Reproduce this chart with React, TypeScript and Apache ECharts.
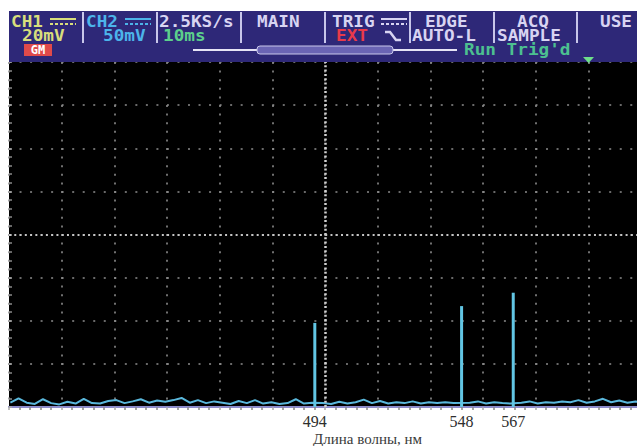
import React, { useEffect, useRef } from "react";
import * as echarts from "echarts";

// Spectrum peaks (wavelength, nm) and their heights (screen divisions)
const peakWavelengths = [494, 548, 567];
const peakHeights = [1.95, 2.34, 2.65];

// Baseline noise (wavelength nm, divisions)
const noiseWavelengths = [
  382, 385, 388, 391, 394, 397, 400, 403, 406, 409, 412, 415, 418, 421, 424, 427, 430, 433, 436, 439,
  442, 445, 448, 451, 454, 457, 460, 463, 466, 469, 472, 475, 478, 481, 484, 487, 490, 493, 497, 500,
  503, 506, 509, 512, 515, 518, 521, 524, 527, 530, 533, 536, 539, 542, 545, 551, 554, 557, 560, 563,
  566, 570, 573, 576, 579, 582, 585, 588, 591, 594, 597, 600, 603, 606, 609, 612, 614,
];
const noiseValues = [
  0.1, 0.2, 0.1, 0.07, 0.18, 0.09, 0.06, 0.12, 0.08, 0.19, 0.09, 0.08, 0.14, 0.16, 0.09, 0.13, 0.18, 0.1, 0.15, 0.12,
  0.16, 0.21, 0.1, 0.16, 0.09, 0.13, 0.1, 0.07, 0.14, 0.09, 0.16, 0.08, 0.11, 0.07, 0.09, 0.18, 0.08, 0.1, 0.09, 0.07,
  0.12, 0.08, 0.11, 0.17, 0.09, 0.14, 0.08, 0.11, 0.09, 0.13, 0.08, 0.11, 0.09, 0.11, 0.09, 0.1, 0.13, 0.08, 0.11, 0.09,
  0.08, 0.1, 0.13, 0.08, 0.11, 0.1, 0.13, 0.11, 0.16, 0.1, 0.13, 0.19, 0.11, 0.15, 0.1, 0.13, 0.11,
];

// Tick labels on the wavelength axis
const tickLabels = [494, 548, 567];
const axisTitle = "Длина волны, нм";

// Oscilloscope header texts
const headerRow1 = [
  { t: "CH1", x: 11, c: "#d8de7c" },
  { t: "CH2", x: 86, c: "#4cb4ea" },
  { t: "2.5KS/s", x: 159, c: "#d8d4f2" },
  { t: "MAIN", x: 257, c: "#d8d4f2" },
  { t: "TRIG", x: 332, c: "#d8d4f2" },
  { t: "EDGE", x: 425, c: "#d8d4f2" },
  { t: "ACQ", x: 517, c: "#d8d4f2" },
  { t: "USE", x: 600, c: "#d8d4f2" },
];
const headerRow2 = [
  { t: "20mV", x: 22, c: "#d8de7c" },
  { t: "50mV", x: 103, c: "#4cb4ea" },
  { t: "10ms", x: 163, c: "#5cd08c" },
  { t: "EXT", x: 336, c: "#e83a4a" },
  { t: "AUTO-L", x: 412, c: "#d8d4f2" },
  { t: "SAMPLE", x: 497, c: "#d8d4f2" },
];
const separators = [83, 157, 241, 325, 410, 494, 577];

const hdrText = (t: string, x: number, y: number, c: string) => ({
  type: "text",
  x,
  y,
  scaleX: 1.18,
  z: 20,
  style: {
    text: t,
    fill: c,
    fontFamily: "DejaVu Sans Mono",
    fontWeight: "bold",
    fontSize: 15,
    verticalAlign: "middle",
  },
});

export default function App() {
  const ref = useRef<HTMLDivElement>(null);
  useEffect(() => {
    if (!ref.current) return;
    const chart = echarts.init(ref.current, undefined, { renderer: "svg" });

    const noise = noiseWavelengths.map((w, i) => [w, noiseValues[i]]);
    const peaks = peakWavelengths.map((w, i) => [w, peakHeights[i]]);

    const graphic: any[] = [
      { type: "rect", z: 15, shape: { x: 9, y: 11, width: 632, height: 51 }, style: { fill: "#2e2878" } },
      ...separators.map((x) => ({
        type: "line",
        z: 16,
        shape: { x1: x, y1: 12, x2: x, y2: 43 },
        style: { stroke: "#c8c6ea", lineWidth: 2 },
      })),
      ...headerRow1.map((h) => hdrText(h.t, h.x, 22, h.c)),
      ...headerRow2.map((h) => hdrText(h.t, h.x, 36, h.c)),
      // coupling icons
      ...[
        { x: 50, c: "#d8de7c" },
        { x: 125, c: "#4cb4ea" },
        { x: 381, c: "#d8d4f2" },
      ].flatMap((ic) => [
        { type: "line", z: 16, shape: { x1: ic.x, y1: 19, x2: ic.x + 26, y2: 19 }, style: { stroke: ic.c, lineWidth: 2 } },
        {
          type: "line",
          z: 16,
          shape: { x1: ic.x, y1: 24, x2: ic.x + 26, y2: 24 },
          style: { stroke: ic.c, lineWidth: 2, lineDash: [3, 2] },
        },
      ]),
      // falling edge symbol
      {
        type: "polyline",
        z: 16,
        shape: { points: [[385, 32], [390, 32], [396, 40], [401, 40]] },
        style: { stroke: "#d8d4f2", lineWidth: 2.5, fill: "none" },
      },
      // GM badge
      { type: "rect", z: 16, shape: { x: 24, y: 44, width: 28, height: 12 }, style: { fill: "#e04a4a" } },
      {
        type: "text",
        z: 17,
        x: 38,
        y: 50,
        style: {
          text: "GM",
          fill: "#ffffff",
          fontFamily: "DejaVu Sans Mono",
          fontWeight: "bold",
          fontSize: 12,
          align: "center",
          verticalAlign: "middle",
        },
      },
      // timebase position bar
      { type: "line", z: 16, shape: { x1: 193, y1: 50, x2: 457, y2: 50 }, style: { stroke: "#e6e4f6", lineWidth: 2 } },
      {
        type: "rect",
        z: 17,
        shape: { x: 257, y: 46, width: 136, height: 8, r: 3 },
        style: { fill: "#6a64b4", stroke: "#c8c6ea", lineWidth: 1 },
      },
      hdrText("Run Trig'd", 464, 50, "#4cc090"),
      {
        type: "polygon",
        z: 17,
        shape: { points: [[583, 57], [594, 57], [588.5, 63]] },
        style: { fill: "#6ee08a" },
      },
      // axis title
      {
        type: "text",
        z: 20,
        x: 313,
        y: 439,
        style: {
          text: axisTitle,
          fill: "#3a3a3a",
          fontFamily: "Liberation Serif",
          fontSize: 15,
          verticalAlign: "middle",
        },
      },
    ];

    chart.setOption({
      animation: false,
      backgroundColor: "#ffffff",
      grid: {
        left: 9,
        right: 0,
        top: 62,
        bottom: 39,
        show: true,
        backgroundColor: "#000000",
        borderWidth: 0,
      },
      xAxis: [
        {
          type: "value",
          min: 381.5,
          max: 614,
          position: "bottom",
          axisLine: { show: true, onZero: false, lineStyle: { color: "#8c8ccc", width: 2 } },
          axisTick: { show: false },
          splitLine: { show: false },
          axisLabel: {
            customValues: tickLabels,
            margin: 6,
            color: "#2e2e2e",
            fontFamily: "Liberation Serif",
            fontSize: 16,
          },
        },
        {
          type: "value",
          min: 0,
          max: 12,
          interval: 1,
          position: "top",
          axisLine: { show: false },
          axisTick: { show: true, inside: true, length: 3, lineStyle: { color: "#aaaaaa", width: 1.5 } },
          minorTick: { show: true, splitNumber: 5, length: 3, lineStyle: { color: "#888888", width: 1.5 } },
          axisLabel: { show: false },
          splitLine: { show: true, lineStyle: { color: "#8c8c8c", width: 1.6, type: [2, 6.6] } },
        },
      ],
      yAxis: {
        type: "value",
        min: 0,
        max: 8,
        interval: 1,
        axisLine: { show: false },
        axisLabel: { show: false },
        axisTick: { show: true, inside: true, length: 3, lineStyle: { color: "#aaaaaa", width: 1.5 } },
        minorTick: { show: true, splitNumber: 5, length: 3, lineStyle: { color: "#888888", width: 1.5 } },
        splitLine: { show: true, lineStyle: { color: "#8c8c8c", width: 1.6, type: [2, 8.53] } },
      },
      series: [
        {
          type: "line",
          xAxisIndex: 1,
          data: [[6, -10]],
          showSymbol: false,
          silent: true,
          lineStyle: { opacity: 0 },
          markLine: {
            silent: true,
            symbol: "none",
            label: { show: false },
            data: [
              { xAxis: 6, lineStyle: { color: "#d0d0d0", width: 2.5, type: [2, 2.3] } },
              { yAxis: 4, lineStyle: { color: "#c4c4c4", width: 2.2, type: [2, 3.27] } },
            ],
          },
        },
        {
          type: "line",
          xAxisIndex: 0,
          data: noise,
          showSymbol: false,
          lineStyle: { color: "#5ab8dc", width: 2 },
          z: 4,
        },
        {
          type: "bar",
          xAxisIndex: 0,
          data: peaks,
          barWidth: 3,
          itemStyle: { color: "#62c6e4" },
          z: 5,
        },
      ],
      graphic,
    });
    return () => chart.dispose();
  }, []);
  return (
    <div
      ref={ref}
      style={{ position: "fixed", left: 0, top: 0, width: 641, height: 446 }}
    />
  );
}
